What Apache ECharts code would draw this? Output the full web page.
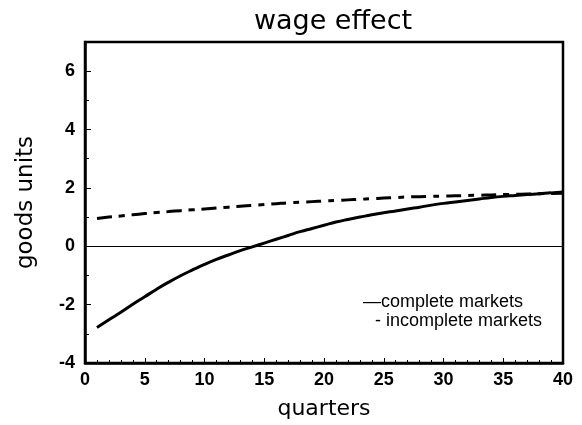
<!DOCTYPE html>
<html>
<head>
<meta charset="utf-8">
<script src="https://cdn.jsdelivr.net/npm/echarts@6/dist/echarts.min.js"></script>
<style>
  html, body { margin: 0; padding: 0; background: #fff; }
  #chart { width: 582px; height: 425px; }
</style>
</head>
<body>
<div id="chart"></div>
<script>
// quarters 1..40
const quarters = [1, 2, 3, 4, 5, 6, 7, 8, 9, 10, 11, 12, 13, 14, 15, 16, 17, 18, 19, 20,
  21, 22, 23, 24, 25, 26, 27, 28, 29, 30, 31, 32, 33, 34, 35, 36, 37, 38, 39, 40];

const completeMarkets = [-2.78, -2.52, -2.26, -1.99, -1.73, -1.47, -1.23, -1.01, -0.81, -0.62,
  -0.45, -0.30, -0.15, -0.02, 0.11, 0.24, 0.37, 0.50, 0.61, 0.72,
  0.83, 0.92, 1.00, 1.08, 1.15, 1.21, 1.28, 1.34, 1.41, 1.47,
  1.52, 1.57, 1.62, 1.67, 1.71, 1.74, 1.77, 1.80, 1.83, 1.86];

const incompleteMarkets = [0.95, 1.00, 1.04, 1.08, 1.12, 1.16, 1.19, 1.22, 1.25, 1.28,
  1.31, 1.34, 1.37, 1.40, 1.43, 1.46, 1.49, 1.51, 1.53, 1.55,
  1.57, 1.59, 1.61, 1.63, 1.65, 1.67, 1.69, 1.70, 1.71, 1.72,
  1.73, 1.74, 1.75, 1.76, 1.77, 1.78, 1.79, 1.80, 1.81, 1.82];

const seriesNames = ['complete markets', 'incomplete markets'];
const legendMarks = ['\u2014', '- '];

const font = '"Liberation Sans", Arial, Helvetica, sans-serif';
const wideFont = '"DejaVu Sans", Verdana, sans-serif';
const tickFont = '"Liberation Sans Narrow", "Liberation Sans", Arial, sans-serif';

const pairs = ys => quarters.map((q, i) => [q, ys[i]]);

const chart = echarts.init(document.getElementById('chart'));

chart.setOption({
  animation: false,
  backgroundColor: '#fff',
  textStyle: { fontFamily: font, color: '#000' },
  title: {
    text: 'wage effect',
    left: 328,
    textAlign: 'center',
    top: 3,
    textStyle: { fontFamily: wideFont, fontSize: 27, fontWeight: 'normal', color: '#000' }
  },
  grid: {
    left: 85, right: 19, top: 42, bottom: 60,
    show: true, borderColor: '#000', borderWidth: 2.5, backgroundColor: 'transparent'
  },
  xAxis: {
    type: 'value', min: 0, max: 40, interval: 5,
    name: 'quarters', nameLocation: 'middle', nameGap: 35,
    nameTextStyle: { fontFamily: wideFont, fontSize: 22, color: '#000' },
    axisLine: { show: true, onZero: false, lineStyle: { color: '#000', width: 2.5 } },
    axisTick: { inside: true, length: 5, lineStyle: { color: '#000', width: 1 } },
    minorTick: { show: true, splitNumber: 5, length: 3, lineStyle: { color: '#000', width: 1 } },
    axisLabel: { fontFamily: tickFont, fontSize: 18, fontWeight: 'bold', color: '#000', margin: 8 },
    splitLine: { show: false }
  },
  yAxis: {
    type: 'value', min: -4, max: 7, interval: 2,
    name: 'goods units', nameLocation: 'middle', nameGap: 47,
    nameTextStyle: { fontFamily: wideFont, fontSize: 23, color: '#000' },
    axisLine: { show: true, onZero: false, lineStyle: { color: '#000', width: 2.5 } },
    axisTick: { inside: true, length: 6, lineStyle: { color: '#000', width: 1 } },
    minorTick: { show: true, splitNumber: 2, length: 4, lineStyle: { color: '#000', width: 1 } },
    axisLabel: { fontFamily: tickFont, fontSize: 18, fontWeight: 'bold', color: '#000', margin: 10, showMaxLabel: false },
    splitLine: { show: false }
  },
  series: [
    {
      name: seriesNames[0],
      type: 'line',
      data: pairs(completeMarkets),
      showSymbol: false,
      smooth: true,
      lineStyle: { color: '#000', width: 3 },
      markLine: {
        silent: true,
        symbol: 'none',
        label: { show: false },
        lineStyle: { color: '#000', width: 1, type: 'solid' },
        data: [{ yAxis: 0 }]
      },
      z: 3
    },
    {
      name: seriesNames[1],
      type: 'line',
      data: pairs(incompleteMarkets),
      showSymbol: false,
      smooth: true,
      lineStyle: { color: '#000', width: 3, type: [15, 7, 6, 7] },
      z: 2
    }
  ],
  graphic: [
    {
      type: 'text', left: 363, top: 293,
      style: { text: legendMarks[0] + seriesNames[0], fontFamily: font, fontSize: 18, fill: '#000' }
    },
    {
      type: 'text', left: 375, top: 312,
      style: { text: legendMarks[1] + seriesNames[1], fontFamily: font, fontSize: 18, fill: '#000' }
    }
  ]
});
</script>
</body>
</html>
